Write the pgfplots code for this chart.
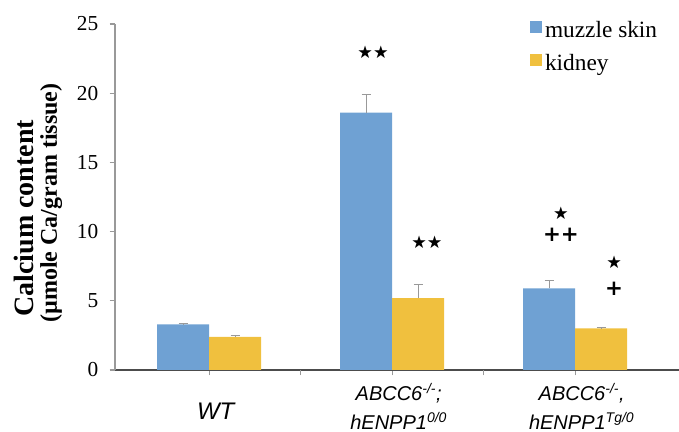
\documentclass[border=0pt]{standalone}
\usepackage{pgfplots}
\pgfplotsset{compat=1.18}
\usepackage{pgfplotstable}
\usepackage{fontspec}
\setmainfont{Liberation Serif}
\setsansfont{Liberation Sans}
\newfontfamily\djv{DejaVu Sans}
\definecolor{myblue}{RGB}{111,161,211}
\definecolor{myyellow}{RGB}{240,192,62}
\pgfplotstableread{
x y e
0 3.3 0.05
1 18.6 1.3
2 5.9 0.6
}\muzzle
\pgfplotstableread{
x y e
0 2.4 0.1
1 5.2 1.0
2 3.0 0.06
}\kidney
\begin{document}
\begin{tikzpicture}
\begin{axis}[
  name=ax, scale only axis, width=423pt, height=259.5pt,
  xmin=-0.514, xmax=2.568, ymin=0, ymax=25,
  ybar, bar width=0.284,
  axis x line*=bottom, axis y line*=left,
  x axis line style={-, draw=black!70, line width=1.2pt},
  y axis line style={-, draw=black!40, line width=0.9pt},
  ytick={0,5,...,25},
  xtick={0,1,2},
  xticklabels={{\fontsize{18}{21}\selectfont\raisebox{0pt}[\dimexpr\height+8pt][\depth]{WT}},
    {ABCC6\textsuperscript{-/-};\\hENPP1\textsuperscript{0/0}},
    {ABCC6\textsuperscript{-/-},\\hENPP1\textsuperscript{Tg/0}}},
  extra x ticks={0.5,1.5}, extra x tick labels={},
  extra x tick style={tick style={draw=black!40, line width=0.8pt}},
  tick align=outside, major tick length=4pt,
  x tick style={draw=black!40, line width=0.8pt},
  y tick style={draw=black!40, line width=0.8pt},
  xticklabel style={font=\sffamily\itshape\fontsize{15}{21.75}\selectfont, align=center, anchor=center, yshift=-23pt, xshift=5pt},
  yticklabel style={font=\fontsize{16}{18}\selectfont, xshift=-5pt},
  /pgf/number format/assume math mode=true,
  ylabel={{\fontsize{21}{25}\selectfont\bfseries Calcium content\hspace*{23pt}}\\[4pt]{\fontsize{18}{21}\selectfont\bfseries (µmole Ca/gram tissue)}},
  ylabel style={align=center, at={(rel axis cs:0,0.5)}, anchor=center, xshift=-4.5pt, yshift=57.75pt},
  legend style={at={(rel axis cs:0.736,1.015)}, anchor=north west, draw=none, fill=none,
    font=\fontsize{17.5}{20}\selectfont, row sep=7pt, inner sep=0pt,
    /tikz/every even column/.append style={column sep=10pt}},
  legend cell align=left,
  legend image code/.code={\fill[#1,draw=none] (0pt,-1.5pt) rectangle (9pt,7.5pt);},
  clip=false,
]
\addplot[fill=myblue, draw=none, bar shift=-0.142,
  error bars/.cd, y dir=plus, y explicit,
  error bar style={draw=black!40, line width=0.8pt},
  error mark options={rotate=90, mark size=3.4pt, draw=black!40, line width=0.8pt}]
  table[x=x, y=y, y error=e] {\muzzle};
\addplot[fill=myyellow, draw=none, bar shift=0.142,
  error bars/.cd, y dir=plus, y explicit,
  error bar style={draw=black!40, line width=0.8pt},
  error mark options={rotate=90, mark size=3.4pt, draw=black!40, line width=0.8pt}]
  table[x=x, y=y, y error=e] {\kidney};
\legend{muzzle skin, kidney}
\node[font=\djv\fontsize{13}{14}\selectfont, inner sep=0pt] at (axis cs:0.896,22.98) {★★};
\node[font=\djv\fontsize{13}{14}\selectfont, inner sep=0pt] at (axis cs:1.19,9.2) {★★};
\node[font=\djv\fontsize{13}{14}\selectfont, inner sep=0pt] at (axis cs:1.923,11.3) {★};
\node[font=\djv\bfseries\fontsize{16}{18}\selectfont, inner sep=0pt] at (axis cs:1.923,9.75) {++};
\node[font=\djv\fontsize{13}{14}\selectfont, inner sep=0pt] at (axis cs:2.213,7.8) {★};
\node[font=\djv\bfseries\fontsize{16}{18}\selectfont, inner sep=0pt] at (axis cs:2.213,5.85) {+};
\coordinate (O) at (rel axis cs:0,0);
\coordinate (T) at (rel axis cs:1,1);
\end{axis}
\pgfresetboundingbox
\path[use as bounding box] ([xshift=-86.25pt,yshift=-46.5pt]O) rectangle ([yshift=18pt]T);
\end{tikzpicture}
\end{document}
